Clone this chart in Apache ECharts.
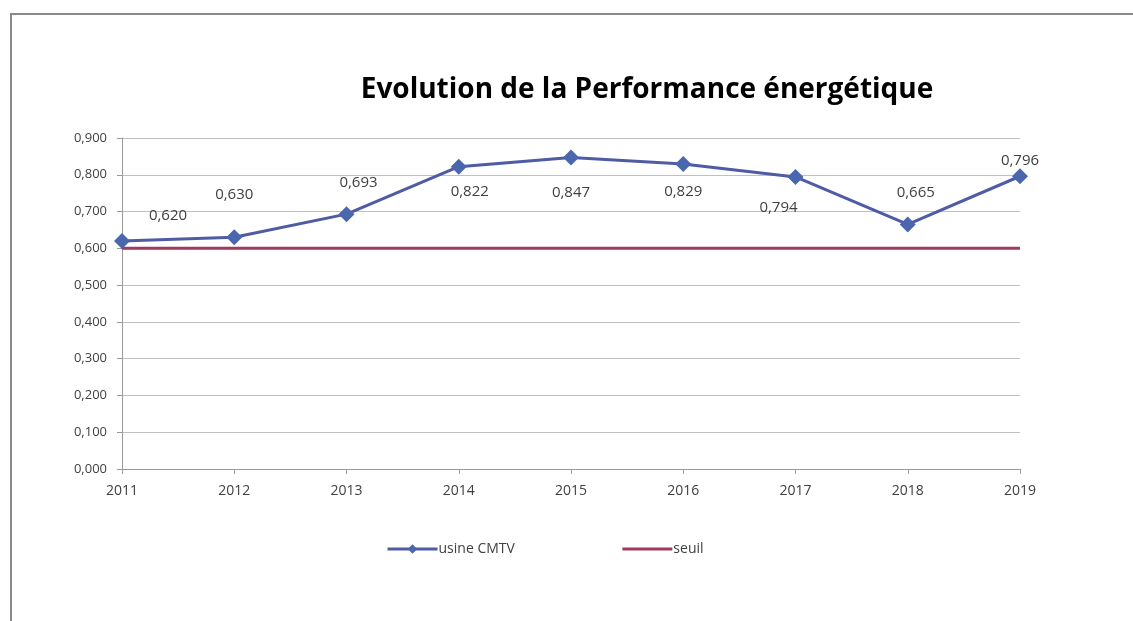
<!DOCTYPE html>
<html>
<head>
<meta charset="utf-8">
<script src="https://cdn.jsdelivr.net/npm/echarts@6/dist/echarts.min.js"></script>
<style>
    html, body { margin: 0; padding: 0; background: #fff; }
    #chart { width: 1133px; height: 621px; }
</style>
</head>
<body>
<div id="chart"></div>
<script>
const YEARS = ['2011', '2012', '2013', '2014', '2015', '2016', '2017', '2018', '2019'];
const USINE = [0.620, 0.630, 0.693, 0.822, 0.847, 0.829, 0.794, 0.665, 0.796];
const SEUIL = [0.600, 0.600, 0.600, 0.600, 0.600, 0.600, 0.600, 0.600, 0.600];

const FONT = '"Open Sans", "Noto Sans", sans-serif';
const BLUE = '#4F5BA5';
const RED = '#A03A5E';

// Excel placed the data labels by hand, one offset per point
const LABEL_OFFSETS = [[46, -25], [0, -43], [12, -31], [11, 25], [0, 35], [0, 28], [-17, 31], [8, -32], [0, -16]];

const fmt = v => v.toFixed(3).replace('.', ',');

const chart = echarts.init(document.getElementById('chart'), null, { renderer: 'canvas' });
chart.setOption({
    animation: false,
    title: {
        text: 'Evolution de la Performance énergétique',
        left: 642, top: 71, textAlign: 'center',
        textStyle: { fontFamily: FONT, fontSize: 28, fontWeight: 'bold', color: '#000' },
    },
    graphic: [{
        type: 'polyline',
        shape: { points: [[11, 621], [11, 14], [1133, 14]] },
        style: { stroke: '#8a8a8a', lineWidth: 2, fill: null },
    }],
    legend: {
        left: 381, top: 537,
        itemWidth: 50, itemHeight: 12, itemGap: 106,
        lineStyle: { width: 3 },
        textStyle: { fontFamily: FONT, fontSize: 14, color: '#404040', padding: [0, 0, 0, -4] },
        data: [
            { name: 'usine CMTV' },
            { name: 'seuil', itemStyle: { opacity: 0 } },
        ],
    },
    grid: { left: 122, right: 113, top: 138, bottom: 152 },
    xAxis: {
        type: 'category',
        data: YEARS,
        boundaryGap: false,
        axisLine: { lineStyle: { color: '#9a9a9a' } },
        axisTick: { show: true, length: 5, lineStyle: { color: '#9a9a9a' } },
        axisLabel: { fontFamily: FONT, fontSize: 14, color: '#404040', margin: 15 },
        splitLine: { show: false },
    },
    yAxis: {
        type: 'value',
        min: 0, max: 0.9, interval: 0.1,
        axisLine: { show: true, lineStyle: { color: '#9a9a9a' } },
        axisTick: { show: true, length: 5, lineStyle: { color: '#9a9a9a' } },
        axisLabel: { fontFamily: FONT, fontSize: 13, color: '#404040', margin: 15, formatter: v => fmt(v) },
        splitLine: { lineStyle: { color: '#c0c0c0' } },
    },
    series: [
        {
            name: 'seuil',
            type: 'line',
            data: SEUIL,
            symbol: 'none',
            lineStyle: { color: RED, width: 3 },
            itemStyle: { color: RED },
            z: 2,
        },
        {
            name: 'usine CMTV',
            type: 'line',
            data: USINE.map((v, i) => ({
                value: v,
                label: { offset: LABEL_OFFSETS[i] },
            })),
            symbol: 'diamond',
            symbolSize: 16,
            lineStyle: { color: BLUE, width: 3 },
            itemStyle: { color: '#4A66AC' },
            label: {
                show: true, position: 'inside',
                fontFamily: FONT, fontSize: 15, color: '#404040',
                formatter: p => fmt(p.value),
            },
            z: 3,
        },
    ],
});
</script>
</body>
</html>
